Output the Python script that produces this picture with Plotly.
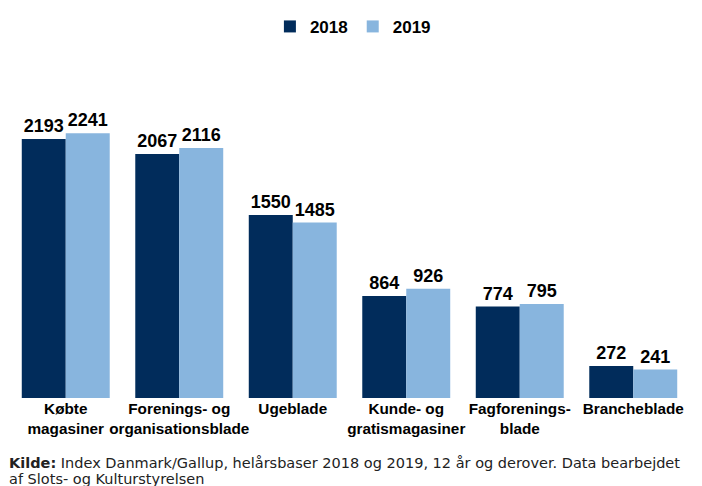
import plotly.graph_objects as go

categories = [
    "Købte<br>magasiner",
    "Forenings- og<br>organisationsblade",
    "Ugeblade",
    "Kunde- og<br>gratismagasiner",
    "Fagforenings-<br>blade",
    "Brancheblade",
]
values_2018 = [2193, 2067, 1550, 864, 774, 272]
values_2019 = [2241, 2116, 1485, 926, 795, 241]
series_names = ["2018", "2019"]
colors = ["#012C5B", "#88B5DE"]

FONT = "Liberation Sans"

fig = go.Figure()
for name, vals, col in zip(series_names, [values_2018, values_2019], colors):
    fig.add_trace(go.Bar(
        x=categories, y=vals, name=name,
        marker=dict(color=col, line=dict(width=0)),
        text=[str(v) for v in vals], textposition="outside",
        textfont=dict(family=FONT, size=18, color="#000000", weight="bold"),
        cliponaxis=False,
    ))

fig.update_layout(
    width=702, height=486,
    margin=dict(l=9, r=12, t=60, b=88, autoexpand=False),
    paper_bgcolor="white", plot_bgcolor="white",
    barmode="group", bargap=0.225, bargroupgap=0,
    font=dict(family=FONT, color="#000000"),
    legend=dict(orientation="h", x=0.505, xanchor="center", y=1.098, yanchor="middle",
                font=dict(family=FONT, size=17, color="#000000", weight="bold"),
                itemwidth=30, tracegroupgap=0, traceorder="normal"),
    xaxis=dict(showline=False, ticks="", showgrid=False, tickangle=0,
               tickfont=dict(family=FONT, size=15.3, color="#000000", weight="bold")),
    yaxis=dict(visible=False, range=[0, 2862]),
    showlegend=True,
)

source_lines = [
    "<b>Kilde:</b> Index Danmark/Gallup, helårsbaser 2018 og 2019, 12 år og derover. Data bearbejdet",
    "af Slots- og Kulturstyrelsen",
]
for i, line in enumerate(source_lines):
    fig.add_annotation(
        xref="paper", yref="paper", x=0, y=0, xanchor="left", yanchor="middle",
        xshift=-2, yshift=-(64.5 + 16 * i), align="left", showarrow=False,
        text=line,
        font=dict(family="DejaVu Sans", size=14.5, color="#222222"),
    )

fig.write_html("out.html")
